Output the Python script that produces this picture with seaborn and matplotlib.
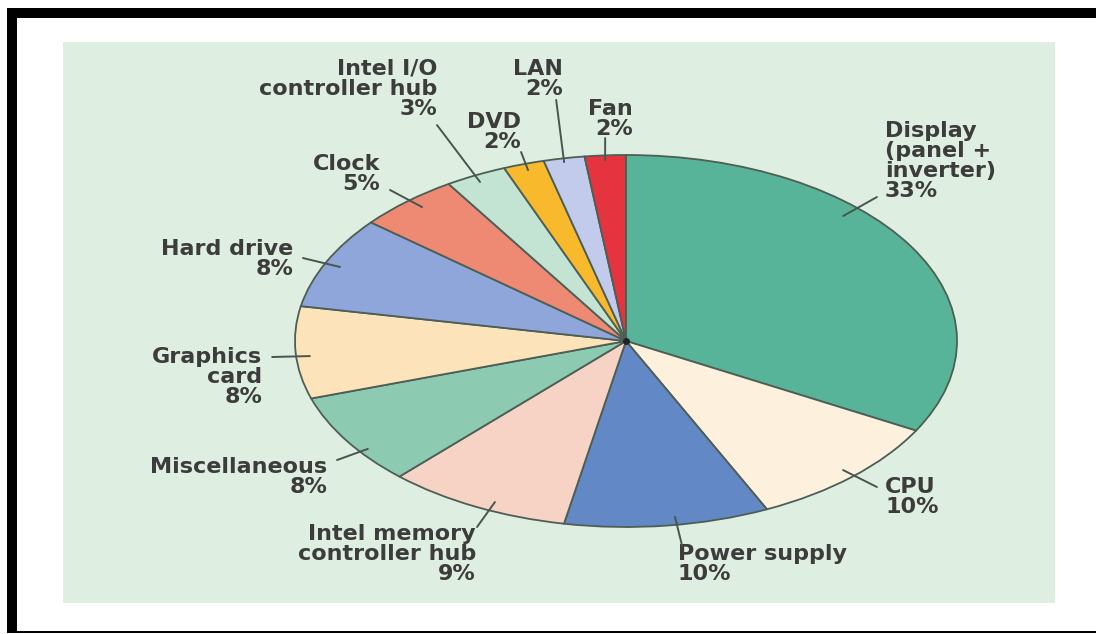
import matplotlib
matplotlib.use("Agg")
import matplotlib.pyplot as plt
import seaborn as sns
from matplotlib.patches import Rectangle

# ---- data ----
categories = ["Display\n(panel +\ninverter)", "CPU", "Power supply",
              "Intel memory\ncontroller hub", "Miscellaneous", "Graphics\ncard",
              "Hard drive", "Clock", "Intel I/O\ncontroller hub", "DVD", "LAN", "Fan"]
shares = [33, 10, 10, 9, 8, 8, 8, 5, 3, 2, 2, 2]
slice_colors = ["#58b498", "#fdf0dc", "#6388c6", "#f6d3c5", "#8ccab2", "#fde3b9",
                "#8ea6da", "#ee8a73", "#c3e3d3", "#f8b92c", "#c3cbed", "#e5343f"]

# ---- layout (pixel positions of label blocks: ha, x, top y) ----
label_pos = [("left", 885, 121), ("left", 885, 477), ("left", 678, 544),
             ("right", 476, 524), ("right", 327, 457), ("right", 262, 347),
             ("right", 293, 239), ("right", 380, 154), ("right", 437, 59),
             ("right", 521, 112), ("right", 563, 59), ("right", 633, 99)]
# leader lines: (inner point, outer point) in pie units
leaders = [((0.656, 0.672), (0.758, 0.774)), ((0.656, -0.694), (0.758, -0.785)),
           ((0.148, -0.946), (0.169, -1.097)), ((-0.396, -0.866), (-0.450, -1.0)),
           ((-0.78, -0.58), (-0.873, -0.640)), ((-0.955, -0.081), (-1.069, -0.086)),
           ((-0.864, 0.398), (-0.976, 0.446)), ((-0.616, 0.720), (-0.713, 0.812)),
           ((-0.441, 0.855), (-0.571, 1.161)), ((-0.296, 0.919), (-0.317, 1.016)),
           ((-0.187, 0.962), (-0.211, 1.296)), ((-0.063, 0.973), (-0.063, 1.091))]

sns.set_theme(style="white")
plt.rcParams["font.family"] = ["DejaVu Sans"]

W, H = 1096, 634
fig = plt.figure(figsize=(W / 100, H / 100), dpi=100)
fig.patch.set_facecolor("white")

# frame
fig.patches.append(Rectangle((7 / W, 1 - 18 / H), 1 - 7 / W, 10 / H, transform=fig.transFigure,
                             facecolor="black", edgecolor="none"))
fig.patches.append(Rectangle((7 / W, 1 / H), 10 / W, 1 - 19 / H, transform=fig.transFigure,
                             facecolor="black", edgecolor="none"))
fig.patches.append(Rectangle((7 / W, 1 / H), 1 - 7 / W, 2.5 / H, transform=fig.transFigure,
                             facecolor="black", edgecolor="none"))

# green panel
bg = fig.add_axes([63 / W, 1 - 603 / H, (1055 - 63) / W, (603 - 42) / H])
bg.set_facecolor("#deeee0")
bg.set_xticks([]); bg.set_yticks([])
for s in bg.spines.values():
    s.set_visible(False)

# pie axes (stretched to an ellipse)
cx0, cx1, cy0, cy1 = 295, 957, 155, 527
ax = fig.add_axes([cx0 / W, 1 - cy1 / H, (cx1 - cx0) / W, (cy1 - cy0) / H])
ax.patch.set_alpha(0)
palette = sns.color_palette(slice_colors)
ax.pie(shares, colors=palette, startangle=90, counterclock=False,
       wedgeprops=dict(edgecolor="#4d5e55", linewidth=1.3))
ax.set_aspect("auto")
ax.set_xlim(-1, 1)
ax.set_ylim(-1, 1)
ax.plot([0], [0], marker="o", ms=4, color="#222222")

cxm, cym = (cx0 + cx1) / 2, (cy0 + cy1) / 2
rx, ry = (cx1 - cx0) / 2, (cy1 - cy0) / 2


def px2pie(x, y):
    return (x - cxm) / rx, (cym - y) / ry


text_color = "#3c3c3c"
for lab, val, (ha, x, y) in zip(categories, shares, label_pos):
    tx, ty = px2pie(x, y)
    ax.text(tx, ty, f"{lab}\n{val}%", ha=ha, va="top", multialignment=ha,
            fontsize=16, fontweight="bold", color=text_color, linespacing=0.99,
            clip_on=False)

for (p_in, p_out) in leaders:
    ax.annotate("", xy=p_in, xytext=p_out, annotation_clip=False,
                arrowprops=dict(arrowstyle="-", color="#4a5550", lw=1.4,
                                shrinkA=0, shrinkB=0))

fig.savefig("out.png", dpi=100, facecolor="white")
